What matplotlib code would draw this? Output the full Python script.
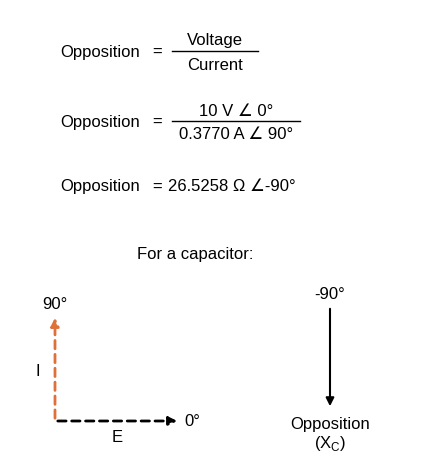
import matplotlib
matplotlib.use("Agg")
import matplotlib.pyplot as plt

plt.rcParams['font.family'] = ['Liberation Sans', 'DejaVu Sans']
W, H = 423, 477
fig = plt.figure(figsize=(W/100, H/100), dpi=100)
ax = fig.add_axes([0, 0, 1, 1])
ax.set_xlim(0, W); ax.set_ylim(H, 0); ax.axis('off')

fs = 12
lbl = "Opposition"
nums = ["Voltage", "10 V \u2220 0\u00b0"]
dens = ["Current", "0.3770 A \u2220 90\u00b0"]
result = "26.5258 \u03a9 \u2220-90\u00b0"
ys = [52, 122]
lines = [(172, 258), (172, 300)]
for y, n, d, (x0, x1) in zip(ys, nums, dens, lines):
    ax.text(60, y, lbl, fontsize=fs, va='center', ha='left')
    ax.text(157, y, "=", fontsize=fs, va='center', ha='center')
    xc = (x0 + x1) / 2
    ax.text(xc, y - 11, n, fontsize=fs, ha='center', va='center')
    ax.text(xc, y + 13, d, fontsize=fs, ha='center', va='center')
    ax.plot([x0, x1], [y, y], color='black', lw=1)
ax.text(60, 187, lbl, fontsize=fs, va='center', ha='left')
ax.text(157, 187, "=", fontsize=fs, va='center', ha='center')
ax.text(168, 187, result, fontsize=fs, va='center', ha='left')
ax.text(195, 255, "For a capacitor:", fontsize=fs, ha='center', va='center')

orange = '#e0703a'
ax.annotate('', xy=(55, 316), xytext=(55, 422),
            arrowprops=dict(arrowstyle='-|>', color=orange, lw=2, ls=(0, (3, 2)), mutation_scale=12))
ax.annotate('', xy=(180, 422), xytext=(55, 422),
            arrowprops=dict(arrowstyle='-|>', color='black', lw=2, ls=(0, (3, 2)), mutation_scale=12))
ax.text(55, 305, "90\u00b0", fontsize=fs, ha='center', va='center')
ax.text(38, 372, "I", fontsize=fs, ha='center', va='center')
ax.text(184, 422, "0\u00b0", fontsize=fs, ha='left', va='center')
ax.text(117, 438, "E", fontsize=fs, ha='center', va='center')

ax.annotate('', xy=(330, 410), xytext=(330, 307),
            arrowprops=dict(arrowstyle='-|>', color='black', lw=1.5, mutation_scale=12))
ax.text(330, 295, "-90\u00b0", fontsize=fs, ha='center', va='center')
ax.text(330, 425, "Opposition", fontsize=fs, ha='center', va='center')
ax.text(330, 444, "(X$_\\mathregular{C}$)", fontsize=fs, ha='center', va='center')

fig.savefig('out.png', dpi=100)
